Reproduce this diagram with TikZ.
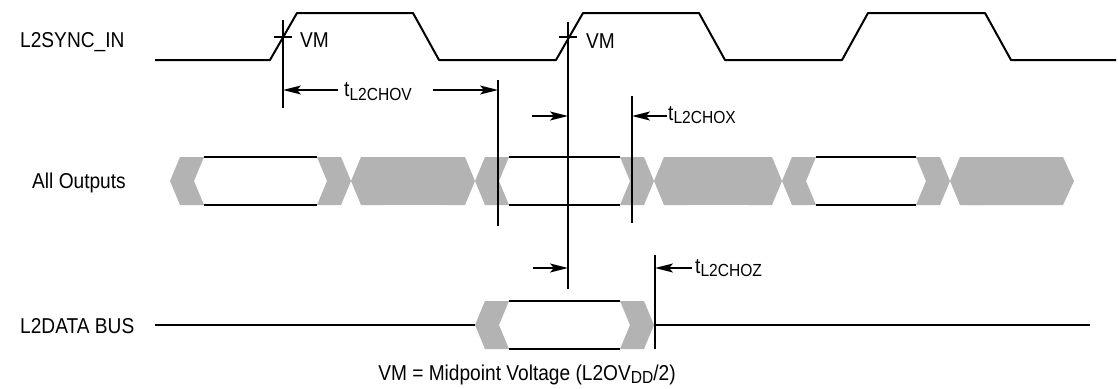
\documentclass[tikz,border=0pt]{standalone}
\usepackage{fontspec}
\setmainfont{Liberation Sans}[FakeStretch=0.89]
\usetikzlibrary{arrows.meta, positioning}

\definecolor{busgray}{RGB}{179,179,179}
\newcommand{\tsub}[1]{t\raisebox{-3.5pt}{\fontsize{17.5}{17.5}\selectfont #1}}

\tikzset{
    xleft/.pic={\fill[busgray] (-34,-24) -- (-10,-24) -- (0,0) -- (-10,24) -- (-34,24) -- (-24,0) -- cycle;},
    xright/.pic={\fill[busgray] (0,0) -- (10,-24) -- (34,-24) -- (24,0) -- (34,24) -- (10,24) -- cycle;}
}

\begin{document}
\begin{tikzpicture}[x=1pt, y=-1pt,
        lbl/.style={font=\fontsize{21.5}{21.5}\selectfont, inner sep=0pt, anchor=base west},
        wave/.style={line width=2pt, line join=round},
        busline/.style={line width=2.6pt},
        marker/.style={line width=1.7pt},
        tarrow/.style={line width=1.8pt, -{Stealth[length=18pt, width=9pt, inset=4pt]}}]
    \useasboundingbox (0,0) rectangle (1118,388);

    % signal names
    \node[lbl] (sync) at (20,47) {L2SYNC\_IN};
    \node[lbl] (outs) at (32,188) {All Outputs};
    \node[lbl] (data) at (20,333) {L2DATA BUS};

    % clock
    \draw[wave] (155,60) -- (270,60) -- (297,13) -- (413,13) -- (439,60)
        -- (556,60) -- (583,13) -- (699,13) -- (725,60)
        -- (842,60) -- (868,13) -- (985,13) -- (1011,60) -- (1116,60);

    % All Outputs
    \pic at (170,181) {xright};
    \foreach \c in {351,475,654,782,950} {
        \pic at (\c,181) {xleft};
        \pic at (\c,181) {xright};
    }
    \fill[busgray] (370,157) rectangle (456,205);
    \fill[busgray] (673,157) rectangle (763,205);
    \fill[busgray] (969,157) -- (1063,157) -- (1074,181) -- (1063,205) -- (969,205) -- cycle;
    \foreach \a/\b in {204/317, 509/620, 816/916} {
        \draw[busline] (\a,157) -- (\b,157);
        \draw[busline] (\a,205) -- (\b,205);
    }

    % L2DATA BUS
    \draw[busline] (155,325) -- (475,325);
    \pic at (475,325) {xright};
    \pic at (654,325) {xleft};
    \draw[busline] (509,301) -- (620,301);
    \draw[busline] (509,349) -- (620,349);
    \draw[busline] (654,325) -- (1090,325);

    % reference lines
    \coordinate (v1t) at (283,20);  \coordinate (v1b) at (283,108);
    \coordinate (v2t) at (498,80);  \coordinate (v2b) at (498,226);
    \coordinate (v3t) at (568,22);  \coordinate (v3b) at (568,289);
    \coordinate (v4t) at (632,96);  \coordinate (v4b) at (632,223);
    \coordinate (v5t) at (655,255); \coordinate (v5b) at (655,349);
    \foreach \v in {v1,v2,v3,v4,v5}
        \draw[marker] (\v t) -- (\v b);

    % VM crossings
    \draw[marker] (274,37) -- (292,37);
    \draw[marker] (559,37) -- (577,37);
    \node[lbl] (vmA) at (300,47) {VM};
    \node[lbl] (vmB) at (586,48) {VM};

    % timing labels
    \node[lbl] (chov) at (344,96.5) {\tsub{L2CHOV}};
    \node[lbl] (chox) at (668,120) {\tsub{L2CHOX}};
    \node[lbl] (choz) at (695,273) {\tsub{L2CHOZ}};

    \coordinate (ovA) at (338,90);
    \coordinate (ovB) at (433,90);
    \coordinate (oxA) at (532,116);
    \coordinate (oxB) at (667,116);
    \coordinate (ozA) at (533,268);
    \coordinate (ozB) at (692,268);
    \draw[tarrow] (ovA) -- (v1t |- ovA);
    \draw[tarrow] (ovB) -- (v2t |- ovB);
    \draw[tarrow] (oxA) -- (v3t |- oxA);
    \draw[tarrow] (oxB) -- (v4t |- oxB);
    \draw[tarrow] (ozA) -- (v3t |- ozA);
    \draw[tarrow] (ozB) -- (v5t |- ozB);

    % note
    \node[lbl, anchor=base] (note) at (527,380)
        {VM = Midpoint Voltage (L2OV\raisebox{-3.5pt}{\fontsize{17.5}{17.5}\selectfont DD}/2)};
\end{tikzpicture}
\end{document}
